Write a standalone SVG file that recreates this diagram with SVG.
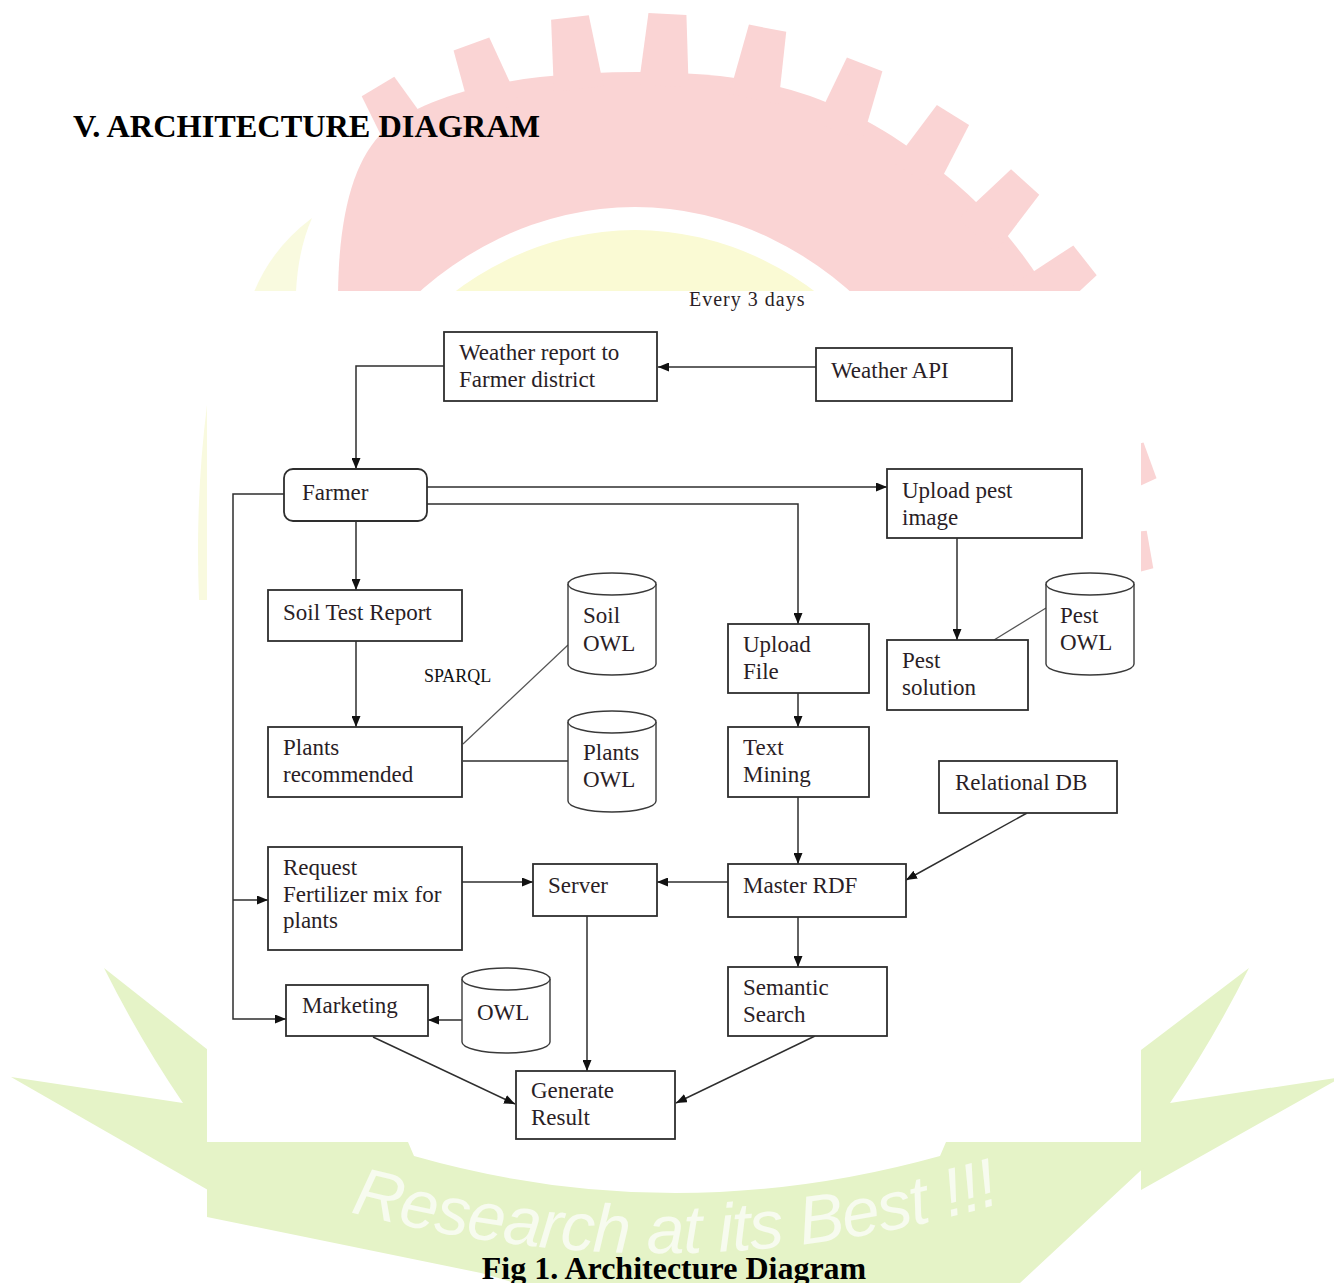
<svg xmlns="http://www.w3.org/2000/svg" width="1334" height="1283" viewBox="0 0 1334 1283">
<defs>
<style>
.box{fill:#fff;stroke:#2e2e2e;stroke-width:1.8}
.cyl{fill:#fff;stroke:#3a3a3a;stroke-width:1.4}
.lbl{font-family:"Liberation Serif","Times New Roman",serif;font-size:23px;fill:#2a1e26}
.con{fill:none;stroke:#2e2e2e;stroke-width:1.5}
.thin{fill:none;stroke:#555;stroke-width:1.2}
.head{font-family:"Liberation Serif","Times New Roman",serif;font-weight:bold;font-size:32px;fill:#000}
.wm-g{fill:#e5f3c7}
</style>
<marker id="arr" viewBox="0 0 11 9" refX="11" refY="4.5" markerWidth="11" markerHeight="9" markerUnits="userSpaceOnUse" orient="auto">
<path d="M0,0 L11,4.5 L0,9 z" fill="#111"/>
</marker>
<polygon id="tooth" points="-25,6 25,6 19,-66 -19,-66"/>
<path id="ribbonPath" d="M350,1212 Q680,1300 1012,1200"/>
</defs>
<rect width="1334" height="1283" fill="#fff"/>
<g id="watermark">
<g id="gear" fill="#fad4d4">
<path d="M338,600 L338,300 C338,220 352,160 385,130 C420,100 480,84 540,77 C600,71 660,70 720,76 C790,84 850,106 910,148 C960,183 1005,225 1040,280 C1075,340 1100,400 1105,470 L1105,600 Z"/>
<use href="#tooth" transform="translate(412,143) rotate(-31)"/>
<use href="#tooth" transform="translate(494,106) rotate(-20)"/>
<use href="#tooth" transform="translate(578,83) rotate(-7)"/>
<use href="#tooth" transform="translate(664,80) rotate(3)"/>
<use href="#tooth" transform="translate(755,93) rotate(11)"/>
<use href="#tooth" transform="translate(841,126) rotate(21)"/>
<use href="#tooth" transform="translate(918,171) rotate(32)"/>
<use href="#tooth" transform="translate(981,231) rotate(42)"/>
<use href="#tooth" transform="translate(1033,301) rotate(52)"/>
<use href="#tooth" transform="translate(1067,387) rotate(61)"/>
<use href="#tooth" transform="translate(1088,483) rotate(70)"/>
<use href="#tooth" transform="translate(1085,561) rotate(80)"/>
</g>
<ellipse cx="635" cy="620" rx="355" ry="413" fill="#fff"/>
<ellipse cx="635" cy="620" rx="334" ry="390" fill="#fafad4"/>
<path d="M312,218 Q272,248 254,292 L296,292 Q298,250 312,218 Z" fill="#f9fadf"/>
<path d="M207,405 Q195,500 199,600 L207,600 Z" fill="#f9fadf"/>
<path class="wm-g" d="M104,968 L208,1050 L208,1190 L11,1077 L183,1103 Q140,1040 104,968 Z"/>
<path class="wm-g" d="M1249,968 L1141,1050 L1141,1190 L1342,1077 L1170,1103 Q1213,1040 1249,968 Z"/>
<path class="wm-g" d="M207,1142 H408 L414,1156 Q674,1230 940,1156 L946,1142 H1152 L1152,1160 L1020,1283 H515 L481,1273 L207,1217 Z"/>
<text font-family="'Liberation Sans',Arial,sans-serif" font-style="italic" font-size="68" fill="#f7fbef"><textPath href="#ribbonPath" textLength="660" lengthAdjust="spacing">Research at its Best !!!</textPath></text>
</g>
<rect x="207" y="291" width="934" height="851" fill="#fff"/>
<text class="head" x="73" y="137" textLength="467" lengthAdjust="spacingAndGlyphs">V. ARCHITECTURE DIAGRAM</text>
<text class="head" x="674" y="1279" text-anchor="middle">Fig 1. Architecture Diagram</text>
<text x="689" y="306" font-family="'Liberation Serif','Times New Roman',serif" font-size="20" letter-spacing="1" fill="#2a1e26">Every 3 days</text>
<text x="424" y="682" font-family="'Liberation Serif','Times New Roman',serif" font-size="18" fill="#111">SPARQL</text>
<g id="connectors">
<path class="con" d="M816,367 H658" marker-end="url(#arr)"/>
<path class="con" d="M444,366 H356 V469" marker-end="url(#arr)"/>
<path class="con" d="M427,487 H887" marker-end="url(#arr)"/>
<path class="con" d="M427,504 H798 V624" marker-end="url(#arr)"/>
<path class="con" d="M356,521 V590" marker-end="url(#arr)"/>
<path class="con" d="M284,494 H233 V1019 H286" marker-end="url(#arr)"/>
<path class="con" d="M233,900 H268" marker-end="url(#arr)"/>
<path class="con" d="M957,538 V640" marker-end="url(#arr)"/>
<path class="thin" d="M994,640 L1046,608"/>
<path class="con" d="M356,641 V727" marker-end="url(#arr)"/>
<path class="thin" d="M463,744 L568,645"/>
<path class="con" d="M463,761 H568"/>
<path class="con" d="M798,693 V727" marker-end="url(#arr)"/>
<path class="con" d="M798,797 V864" marker-end="url(#arr)"/>
<path class="con" d="M1027,813 L906,880" marker-end="url(#arr)"/>
<path class="con" d="M728,882 H657" marker-end="url(#arr)"/>
<path class="con" d="M462,882 H533" marker-end="url(#arr)"/>
<path class="con" d="M798,917 V967" marker-end="url(#arr)"/>
<path class="con" d="M587,916 V1071" marker-end="url(#arr)"/>
<path class="con" d="M815,1036 L676,1103" marker-end="url(#arr)"/>
<path class="con" d="M462,1020 H428" marker-end="url(#arr)"/>
<path class="con" d="M373,1037 L515,1104" marker-end="url(#arr)"/>
</g>
<g id="weather-report"><rect class="box" x="444" y="332" width="213" height="69"/><text class="lbl" x="459" y="360">Weather report to</text><text class="lbl" x="459" y="387">Farmer district</text></g>
<g id="weather-api"><rect class="box" x="816" y="348" width="196" height="53"/><text class="lbl" x="831" y="378">Weather API</text></g>
<g id="farmer"><rect class="box" x="284" y="469" width="143" height="52" rx="9"/><text class="lbl" x="302" y="500">Farmer</text></g>
<g id="upload-pest"><rect class="box" x="887" y="469" width="195" height="69"/><text class="lbl" x="902" y="498">Upload pest</text><text class="lbl" x="902" y="525">image</text></g>
<g id="soil-test"><rect class="box" x="268" y="590" width="194" height="51"/><text class="lbl" x="283" y="620">Soil Test Report</text></g>
<g id="soil-owl"><path class="cyl" d="M568,584 V664 A44,11 0 0 0 656,664 V584"/><ellipse class="cyl" cx="612" cy="584" rx="44" ry="11"/><text class="lbl" x="583" y="623">Soil</text><text class="lbl" x="583" y="651">OWL</text></g>
<g id="upload-file"><rect class="box" x="728" y="624" width="141" height="69"/><text class="lbl" x="743" y="652">Upload</text><text class="lbl" x="743" y="679">File</text></g>
<g id="pest-solution"><rect class="box" x="887" y="640" width="141" height="70"/><text class="lbl" x="902" y="668">Pest</text><text class="lbl" x="902" y="695">solution</text></g>
<g id="pest-owl"><path class="cyl" d="M1046,584 V664 A44,11 0 0 0 1134,664 V584"/><ellipse class="cyl" cx="1090" cy="584" rx="44" ry="11"/><text class="lbl" x="1060" y="623">Pest</text><text class="lbl" x="1060" y="650">OWL</text></g>
<g id="plants-recommended"><rect class="box" x="268" y="727" width="194" height="70"/><text class="lbl" x="283" y="755">Plants</text><text class="lbl" x="283" y="782">recommended</text></g>
<g id="plants-owl"><path class="cyl" d="M568,722 V801 A44,11 0 0 0 656,801 V722"/><ellipse class="cyl" cx="612" cy="722" rx="44" ry="11"/><text class="lbl" x="583" y="760">Plants</text><text class="lbl" x="583" y="787">OWL</text></g>
<g id="text-mining"><rect class="box" x="728" y="727" width="141" height="70"/><text class="lbl" x="743" y="755">Text</text><text class="lbl" x="743" y="782">Mining</text></g>
<g id="relational-db"><rect class="box" x="939" y="761" width="178" height="52"/><text class="lbl" x="955" y="790">Relational DB</text></g>
<g id="request"><rect class="box" x="268" y="847" width="194" height="103"/><text class="lbl" x="283" y="875">Request</text><text class="lbl" x="283" y="902">Fertilizer mix for</text><text class="lbl" x="283" y="928">plants</text></g>
<g id="server"><rect class="box" x="533" y="864" width="124" height="52"/><text class="lbl" x="548" y="893">Server</text></g>
<g id="master-rdf"><rect class="box" x="728" y="864" width="178" height="53"/><text class="lbl" x="743" y="893">Master RDF</text></g>
<g id="semantic-search"><rect class="box" x="728" y="967" width="159" height="69"/><text class="lbl" x="743" y="995">Semantic</text><text class="lbl" x="743" y="1022">Search</text></g>
<g id="marketing"><rect class="box" x="286" y="985" width="142" height="51"/><text class="lbl" x="302" y="1013">Marketing</text></g>
<g id="owl"><path class="cyl" d="M462,979 V1042 A44,11 0 0 0 550,1042 V979"/><ellipse class="cyl" cx="506" cy="979" rx="44" ry="11"/><text class="lbl" x="477" y="1020">OWL</text></g>
<g id="generate-result"><rect class="box" x="516" y="1071" width="159" height="68"/><text class="lbl" x="531" y="1098">Generate</text><text class="lbl" x="531" y="1125">Result</text></g>
</svg>
